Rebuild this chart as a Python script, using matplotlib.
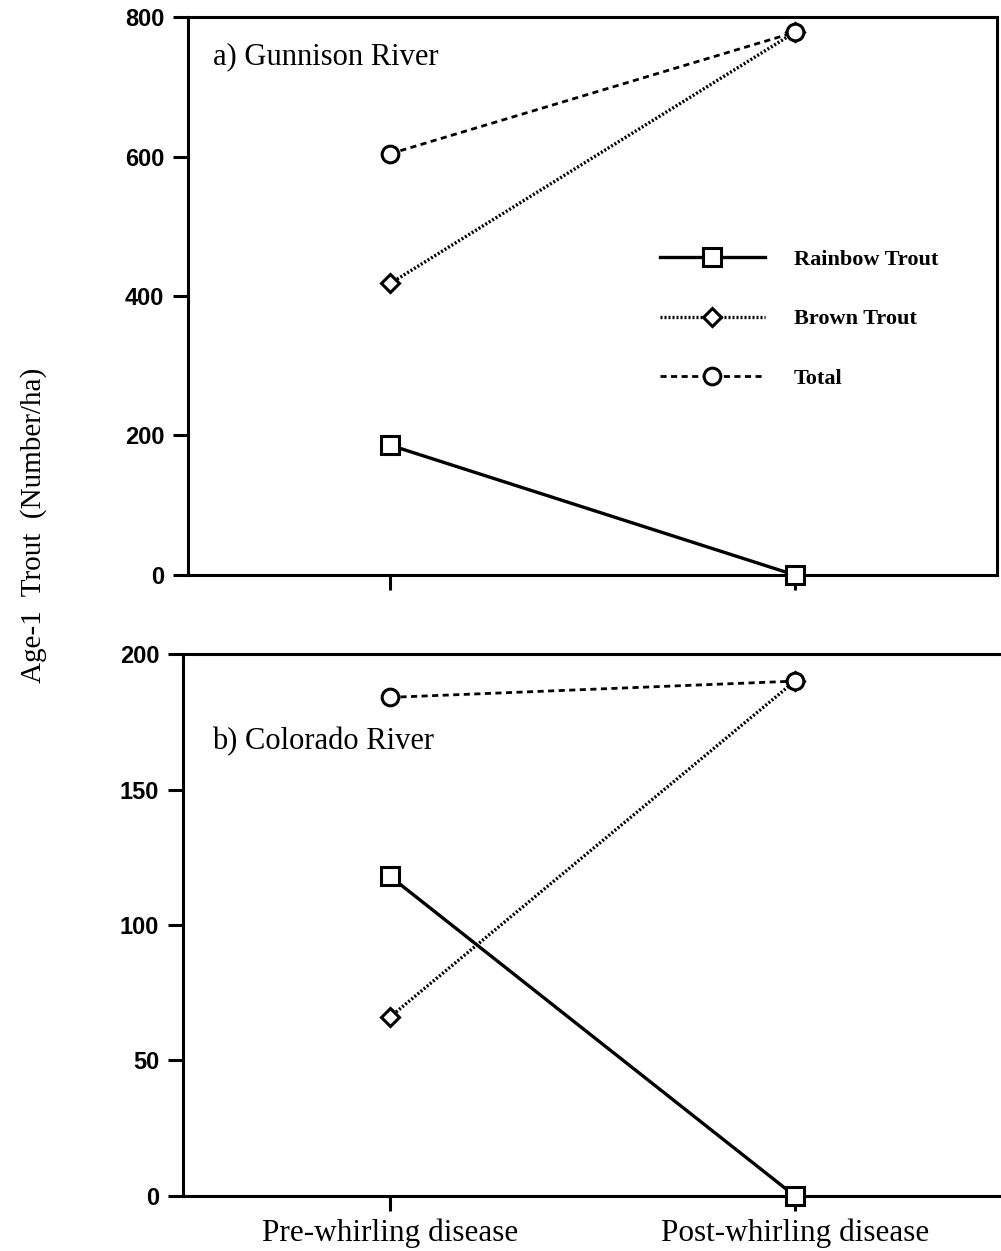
"""
Age-1 trout density before and after whirling disease,
Gunnison River (a) and Colorado River (b).
"""

import matplotlib
matplotlib.use("Agg")
import matplotlib.pyplot as plt
from matplotlib.lines import Line2D

# ── Data ──────────────────────────────────────────────────────────────────────
stages = ["Pre-whirling disease", "Post-whirling disease"]

gunnison_rainbow = [186, 0]
gunnison_brown   = [418, 778]
gunnison_total   = [604, 778]

colorado_rainbow = [118, 0]
colorado_brown   = [66, 190]
colorado_total   = [184, 190]

series_names = ["Rainbow Trout", "Brown Trout", "Total"]

# ── Styles ────────────────────────────────────────────────────────────────────
SERIF = "Liberation Serif"
SANS  = "Liberation Sans"
LW_AX = 2.2

STYLES = {
    "Rainbow Trout": dict(ls="-", lw=2.4, marker="s", ms=12.5),
    "Brown Trout":   dict(ls=(0, (0.6, 0.6)), lw=2.4, marker="D", ms=9),
    "Total":         dict(ls=(0, (2.2, 1.6)), lw=2.0, marker="o", ms=12),
}


def draw_series(ax, name, values):
    st = STYLES[name]
    ax.plot(range(len(values)), values, color="black", linestyle=st["ls"],
            linewidth=st["lw"], marker=st["marker"], markersize=st["ms"],
            markerfacecolor="white", markeredgecolor="black",
            markeredgewidth=2.2, clip_on=False, zorder=3)


def style_axes(ax, yticks):
    for sp in ax.spines.values():
        sp.set_linewidth(LW_AX)
    ax.set_yticks(yticks)
    ax.set_xticks(range(len(stages)))
    ax.tick_params(axis="both", direction="out", width=LW_AX, length=11,
                   pad=6, colors="black")
    for lbl in ax.get_yticklabels():
        lbl.set_fontfamily(SANS)
        lbl.set_fontweight("bold")
        lbl.set_fontsize(17)


fig = plt.figure(figsize=(10.01, 12.51), dpi=100, facecolor="white")

# ── a) Gunnison River ─────────────────────────────────────────────────────────
ax_a = fig.add_axes([0.1878, 0.5404, 0.8082, 0.4460])
for name, vals in zip(series_names, [gunnison_rainbow, gunnison_brown, gunnison_total]):
    draw_series(ax_a, name, vals)
ax_a.set_xlim(-0.5, 1.5)
ax_a.set_ylim(0, 800)
style_axes(ax_a, [0, 200, 400, 600, 800])
ax_a.set_xticklabels([])
ax_a.text(0.031, 0.928, "a) Gunnison River", transform=ax_a.transAxes,
          ha="left", va="center", fontsize=22, family=SERIF)

# legend in the upper panel
handles = [
    Line2D([0], [0], color="black", linestyle=STYLES[n]["ls"],
           linewidth=STYLES[n]["lw"], marker=STYLES[n]["marker"],
           markersize=STYLES[n]["ms"], markerfacecolor="white",
           markeredgecolor="black", markeredgewidth=2.2)
    for n in series_names
]
fig.legend(handles, series_names, loc="center left",
           bbox_to_anchor=(0.659, 0.745), frameon=False,
           prop=dict(family=SERIF, weight="bold", size=16),
           handlelength=4.75, handletextpad=1.3, labelspacing=1.75,
           borderpad=0, borderaxespad=0)

# ── b) Colorado River ─────────────────────────────────────────────────────────
ax_b = fig.add_axes([0.1828, 0.0440, 0.8172, 0.4332])
for name, vals in zip(series_names, [colorado_rainbow, colorado_brown, colorado_total]):
    draw_series(ax_b, name, vals)
ax_b.set_xlim(-0.511, 1.509)
ax_b.set_ylim(0, 200)
style_axes(ax_b, [0, 50, 100, 150, 200])
ax_b.spines["right"].set_visible(False)
ax_b.set_xticklabels(stages, family=SERIF, fontsize=22.5)
ax_b.tick_params(axis="x", pad=5)
ax_b.text(0.036, 0.838, "b) Colorado River", transform=ax_b.transAxes,
          ha="left", va="center", fontsize=22, family=SERIF)

fig.text(0.033, 0.58, "Age-1  Trout  (Number/ha)", rotation=90,
         ha="center", va="center", fontsize=21, family=SERIF)

fig.savefig("out.png", dpi=100, facecolor="white")
